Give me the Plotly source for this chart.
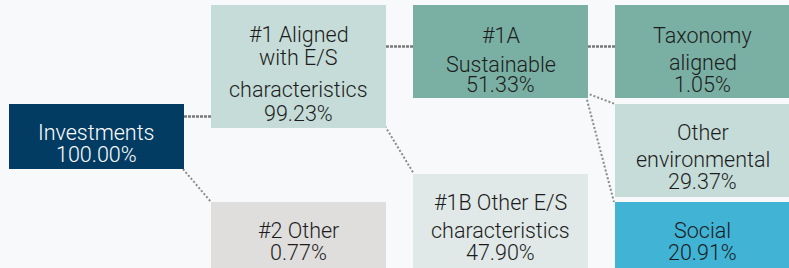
import plotly.graph_objects as go

# ---- data ----
node_labels = ["Investments", "#1 Aligned with E/S characteristics", "#2 Other",
               "#1A Sustainable", "#1B Other E/S characteristics",
               "Taxonomy aligned", "Other environmental", "Social"]
node_lines = [["Investments"], ["#1 Aligned", "with E/S", "characteristics"], ["#2 Other"],
              ["#1A", "Sustainable"], ["#1B Other E/S", "characteristics"],
              ["Taxonomy", "aligned"], ["Other", "environmental"], ["Social"]]
node_values = [100.00, 99.23, 0.77, 51.33, 47.90, 1.05, 29.37, 20.91]
node_parents = [None, 0, 0, 1, 1, 3, 3, 3]

# ---- layout (pixel canvas) ----
W, H = 789, 268
boxes = [  # x0, x1, y0, y1
    (9, 184, 104, 169),
    (211, 386, 5, 128),
    (211, 386, 202, 272),
    (413, 588, 5, 98),
    (413, 588, 174, 272),
    (615, 792, 5, 98),
    (615, 792, 104, 197),
    (615, 792, 202, 272),
]
baselines = [
    [140, 162.5],
    [41.7, 65, 96.7, 120.7],
    [238.3, 260],
    [43.3, 71.7, 92.3],
    [210, 238.3, 260],
    [43.3, 70, 91.7],
    [140, 166.7, 189],
    [238.3, 260],
]
fills = ["#033c63", "#c6dcd8", "#dfdedc", "#7ab0a3", "#e0e9e7", "#7ab0a3", "#c6dcd8", "#41b3d5"]
text_colors = ["#ffffff"] + ["#1c1c1c"] * 7
connectors = {  # child index -> (x0, y0, x1, y1)
    1: (184, 116.5, 211, 116.5),
    2: (183, 169, 211, 202),
    3: (386, 46.5, 413, 46.5),
    4: (385, 126, 414, 174),
    5: (588, 46.5, 615, 46.5),
    6: (586, 93, 615, 104),
    7: (586, 96, 614, 202),
}
FS = 21.5
FONT = "Roboto, Liberation Sans, Arial, sans-serif"

fig = go.Figure()
shapes = []
annotations = []

for child, parent in enumerate(node_parents):
    if parent is None:
        continue
    x0, y0, x1, y1 = connectors[child]
    if y0 == y1:
        ln = dict(color="#7a7a7a", width=2.6, dash="3px,1px")
    else:
        ln = dict(color="#8a8a8a", width=2, dash="2px,2px")
    shapes.append(dict(type="line", xref="x", yref="y", x0=x0, y0=y0, x1=x1, y1=y1,
                       line=ln, layer="below"))

for i, (x0, x1, y0, y1) in enumerate(boxes):
    shapes.append(dict(type="rect", xref="x", yref="y", x0=x0, x1=x1, y0=y0, y1=y1,
                       fillcolor=fills[i], line=dict(width=0), layer="above"))
    lines = node_lines[i] + [f"{node_values[i]:.2f}%"]
    cx = (x0 + min(x1, 790)) / 2
    for line, b in zip(lines, baselines[i]):
        annotations.append(dict(x=cx, y=b - 0.35 * FS, xref="x", yref="y", text=line,
                                showarrow=False, xanchor="center", yanchor="middle",
                                font=dict(family=FONT, size=FS, color=text_colors[i],
                                          weight=300)))

fig.add_trace(go.Scatter(x=[0, W], y=[0, H], mode="markers", marker=dict(opacity=0),
                         hoverinfo="skip", showlegend=False))
fig.update_layout(
    width=W, height=H, margin=dict(l=0, r=0, t=0, b=0),
    paper_bgcolor="#f7f9fb", plot_bgcolor="#f7f9fb",
    xaxis=dict(range=[0, W], visible=False, fixedrange=True),
    yaxis=dict(range=[H, 0], visible=False, fixedrange=True),
    shapes=shapes, annotations=annotations, showlegend=False,
)
fig.write_html("out.html", config={"displayModeBar": False},
               post_script="document.body.style.margin='0';document.body.style.overflow='hidden';")
